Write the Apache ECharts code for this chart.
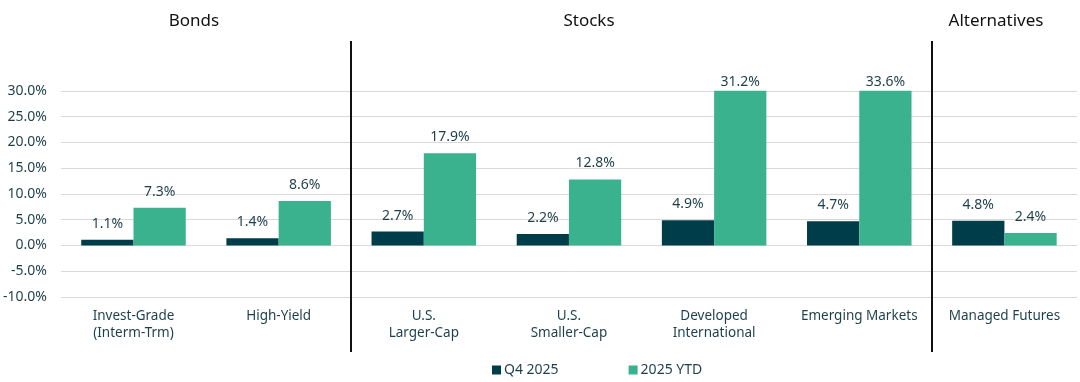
<!DOCTYPE html>
<html>
<head>
<meta charset="utf-8">
<script src="https://cdn.jsdelivr.net/npm/echarts@6/dist/echarts.min.js"></script>
<style>html,body{margin:0;padding:0;background:#fff}#c{width:1080px;height:382px}</style>
</head>
<body>
<div id="c"></div>
<script>
const categories = ['Invest-Grade\n(Interm-Trm)', 'High-Yield', 'U.S.\nLarger-Cap', 'U.S.\nSmaller-Cap', 'Developed\nInternational', 'Emerging Markets', 'Managed Futures'];
const q4_2025 = [1.1, 1.4, 2.7, 2.2, 4.9, 4.7, 4.8];
const ytd_2025 = [7.3, 8.6, 17.9, 12.8, 31.2, 33.6, 2.4];
const seriesNames = ['Q4 2025', '2025 YTD'];
const groupTitles = ['Bonds', 'Stocks', 'Alternatives'];
const separatorAfter = [1, 5]; // separator after these category indices

const FONT = 'Noto Sans';
const TXT = '#1d3f4a';
const yMin = -10, yMax = 30;

function mkData(vals) {
  return vals.map(v => v > yMax
    ? { value: v, label: { distance: 2 } }
    : v);
}

const chart = echarts.init(document.getElementById('c'));
const option = {
  animation: false,
  textStyle: { fontFamily: FONT },
  grid: { left: 60, right: 3, top: 90.8, bottom: 85, containLabel: false },
  legend: {
    left: 487, top: 358,
    itemWidth: 9, itemHeight: 9, itemGap: 70,
    icon: 'rect',
    textStyle: { fontFamily: FONT, fontSize: 14, color: TXT, padding: [0, 0, 0, -2] },
    data: seriesNames
  },
  xAxis: {
    type: 'category',
    data: categories,
    axisLine: { show: false },
    axisTick: { show: false },
    axisLabel: { color: TXT, fontSize: 13.5, fontFamily: FONT, margin: 11, lineHeight: 17, interval: 0 }
  },
  yAxis: {
    type: 'value',
    min: yMin, max: yMax, interval: 5,
    axisLine: { show: false },
    axisTick: { show: false },
    splitLine: { lineStyle: { color: '#d9d9d9', width: 1 } },
    axisLabel: { color: TXT, fontSize: 14, fontFamily: FONT, margin: 14, formatter: v => v.toFixed(1) + '%' }
  },
  series: [
    {
      name: seriesNames[0], type: 'bar', data: mkData(q4_2025),
      barGap: '0%', barCategoryGap: '28%',
      itemStyle: { color: '#003d4b' },
      label: { show: true, position: 'top', distance: 9, color: TXT, fontSize: 14, fontFamily: FONT, formatter: p => p.value.toFixed(1) + '%' }
    },
    {
      name: seriesNames[1], type: 'bar', data: mkData(ytd_2025),
      barGap: '0%', barCategoryGap: '28%',
      itemStyle: { color: '#3ab28e' },
      label: { show: true, position: 'top', distance: 9, color: TXT, fontSize: 14, fontFamily: FONT, formatter: p => p.value.toFixed(1) + '%' }
    }
  ]
};
chart.setOption(option);

// separators and group titles
const gfx = [];
separatorAfter.forEach(i => {
  const a = chart.convertToPixel({ xAxisIndex: 0 }, i);
  const b = chart.convertToPixel({ xAxisIndex: 0 }, i + 1);
  const x = Math.round((a + b) / 2);
  gfx.push({ type: 'line', shape: { x1: x, y1: 41, x2: x, y2: 352 }, style: { stroke: '#111', lineWidth: 2 }, z: 10 });
});
const titleX = [194, 589, 996];
groupTitles.forEach((t, k) => {
  gfx.push({ type: 'text', x: titleX[k], y: 21, style: { text: t, fontFamily: FONT, fontSize: 17, fill: '#111', align: 'center', verticalAlign: 'middle' } });
});
chart.setOption({ graphic: gfx });
</script>
</body>
</html>
